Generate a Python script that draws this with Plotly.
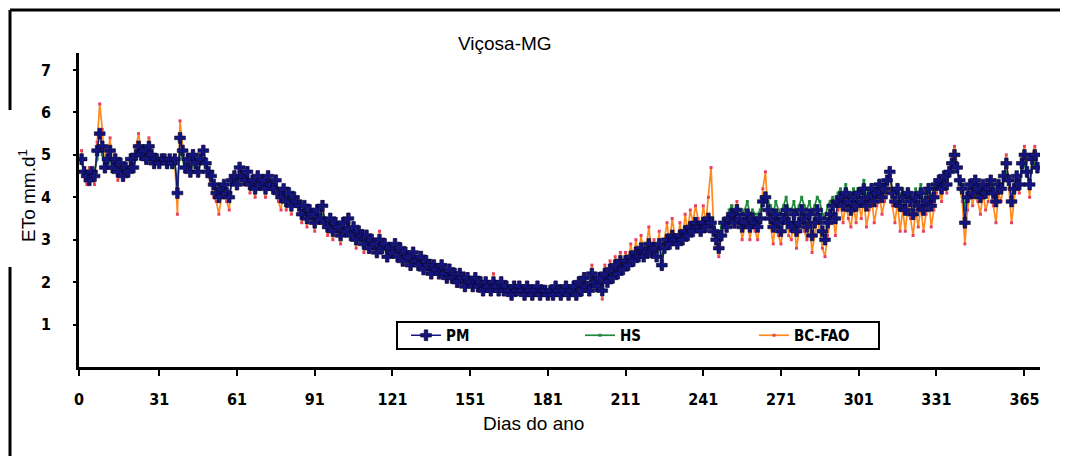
import plotly.graph_objects as go

# ---------------- data ----------------
days = list(range(1, 371))

pm = [
    4.9, 4.6, 4.5, 4.4, 4.6, 4.5, 5.1, 5.5, 5.2, 4.7,
    4.9, 5.1, 4.7, 4.9, 4.6, 4.8, 4.5, 4.7, 4.6, 4.9,
    4.7, 5.0, 5.2, 5.0, 5.1, 4.9, 5.2, 5.0, 4.8, 4.9,
    4.8, 4.9, 4.9, 4.8, 4.9, 4.8, 4.9, 4.1, 5.4, 5.1,
    4.7, 4.9, 4.6, 5.0, 4.8, 4.6, 4.9, 5.1, 4.8, 4.6,
    4.5, 4.3, 4.1, 4.0, 4.2, 4.3, 4.1, 4.0, 4.4, 4.5,
    4.3, 4.7, 4.5, 4.4, 4.6, 4.3, 4.4, 4.2, 4.5, 4.3,
    4.4, 4.2, 4.5, 4.3, 4.2, 4.4, 4.1, 4.0, 4.2, 3.9,
    4.1, 3.8, 4.0, 3.9, 3.8, 3.6, 3.8, 3.5, 3.7, 3.6,
    3.4, 3.7, 3.5, 3.8, 3.4, 3.3, 3.5, 3.2, 3.4, 3.3,
    3.1, 3.4, 3.2, 3.5, 3.1, 3.3, 3.0, 3.2, 3.1, 2.9,
    3.1, 2.8, 3.0, 2.9, 2.7, 3.0, 2.8, 2.9, 2.6, 2.8,
    2.7, 2.9, 2.6, 2.8, 2.5, 2.7, 2.6, 2.4, 2.7, 2.5,
    2.4, 2.6, 2.3, 2.5, 2.4, 2.2, 2.4, 2.3, 2.2, 2.4,
    2.2, 2.1, 2.3, 2.1, 2.2, 2.0, 2.2, 2.1, 1.9, 2.1,
    2.0, 1.9, 2.1, 1.9, 2.0, 1.8, 2.0, 1.9, 1.8, 2.0,
    1.9, 1.8, 2.0, 1.8, 1.9, 1.8, 1.7, 1.9, 1.8, 1.9,
    1.8, 1.7, 1.9, 1.8, 1.7, 1.8, 1.9, 1.7, 1.8, 1.8,
    1.7, 1.8, 1.7, 1.9, 1.8, 1.7, 1.8, 1.9, 1.7, 1.8,
    1.9, 1.7, 2.0, 1.8, 2.1, 1.9, 1.8, 2.2, 2.0, 1.9,
    2.1, 1.8, 2.2, 2.0, 2.3, 2.1, 2.4, 2.2, 2.5, 2.3,
    2.5, 2.4, 2.6, 2.5, 2.7, 2.6, 2.8, 2.6, 2.7, 2.9,
    2.7, 2.8, 2.6, 2.9, 2.4, 2.8, 3.0, 2.9, 3.1, 3.0,
    2.9, 3.1, 3.0, 3.2, 3.1, 3.3, 3.2, 3.4, 3.3, 3.2,
    3.4, 3.3, 3.5, 3.4, 3.2, 3.0, 2.8, 3.1, 3.4, 3.3,
    3.5, 3.6, 3.4, 3.7, 3.5, 3.3, 3.4, 3.6, 3.3, 3.5,
    3.4, 3.3, 3.5, 3.9, 4.0, 3.7, 3.5, 3.3, 3.6, 3.4,
    3.2, 3.5, 3.7, 3.4, 3.3, 3.6, 3.2, 3.4, 3.7, 3.5,
    3.3, 3.6, 3.1, 3.4, 3.7, 3.5, 3.2, 3.0, 3.4, 3.6,
    3.8, 3.5, 3.9, 4.0, 3.8, 4.1, 3.9, 3.7, 4.0, 3.8,
    4.1, 3.9, 4.2, 3.8, 4.0, 4.2, 3.9, 4.1, 4.3, 4.0,
    4.2, 4.4, 4.6, 4.1, 3.9, 4.2, 3.8, 4.0, 3.7, 4.1,
    3.9, 3.6, 4.0, 3.8, 4.1, 3.7, 3.9, 4.2, 3.8, 4.0,
    4.3, 4.4, 4.2, 4.5, 4.3, 4.6, 4.8, 5.0, 4.7, 4.4,
    4.2, 3.4, 4.0, 4.3, 4.1, 4.4, 4.2, 4.0, 4.3, 4.1,
    4.2, 4.4, 4.1, 3.9, 4.3, 4.2, 4.5, 4.8, 4.4, 3.9,
    4.2, 4.5, 4.3, 4.8, 5.0, 4.6, 4.3, 4.9, 5.0, 4.7,
]

hs = [
    4.8, 4.6, 4.5, 4.5, 4.6, 4.6, 4.9, 5.2, 5.0, 4.7,
    4.8, 4.9, 4.7, 4.8, 4.6, 4.7, 4.6, 4.7, 4.6, 4.8,
    4.7, 4.9, 5.0, 4.9, 4.9, 4.8, 5.0, 4.9, 4.8, 4.8,
    4.8, 4.8, 4.8, 4.7, 4.8, 4.7, 4.8, 4.3, 5.1, 4.9,
    4.6, 4.8, 4.6, 4.8, 4.7, 4.6, 4.8, 4.9, 4.7, 4.5,
    4.4, 4.3, 4.2, 4.1, 4.2, 4.3, 4.2, 4.1, 4.3, 4.4,
    4.3, 4.5, 4.4, 4.4, 4.5, 4.3, 4.4, 4.2, 4.4, 4.3,
    4.3, 4.2, 4.4, 4.2, 4.2, 4.3, 4.1, 4.0, 4.1, 3.9,
    4.0, 3.8, 3.9, 3.8, 3.8, 3.6, 3.7, 3.5, 3.6, 3.6,
    3.4, 3.6, 3.5, 3.6, 3.4, 3.3, 3.4, 3.2, 3.3, 3.3,
    3.1, 3.3, 3.2, 3.4, 3.1, 3.2, 3.0, 3.1, 3.0, 2.9,
    3.0, 2.8, 2.9, 2.9, 2.7, 2.9, 2.8, 2.8, 2.6, 2.7,
    2.7, 2.8, 2.6, 2.7, 2.5, 2.6, 2.6, 2.4, 2.6, 2.5,
    2.4, 2.5, 2.3, 2.4, 2.4, 2.2, 2.3, 2.3, 2.2, 2.3,
    2.2, 2.1, 2.2, 2.1, 2.1, 2.0, 2.1, 2.1, 1.9, 2.0,
    2.0, 1.9, 2.0, 1.9, 1.9, 1.8, 1.9, 1.9, 1.8, 1.9,
    1.9, 1.8, 1.9, 1.8, 1.8, 1.8, 1.7, 1.8, 1.8, 1.8,
    1.8, 1.7, 1.8, 1.8, 1.7, 1.8, 1.8, 1.7, 1.8, 1.8,
    1.7, 1.8, 1.7, 1.8, 1.8, 1.7, 1.8, 1.8, 1.7, 1.8,
    1.9, 1.8, 1.9, 1.8, 2.0, 1.9, 1.8, 2.1, 2.0, 1.9,
    2.1, 1.9, 2.1, 2.0, 2.2, 2.1, 2.3, 2.2, 2.4, 2.3,
    2.5, 2.4, 2.6, 2.5, 2.7, 2.6, 2.8, 2.7, 2.7, 2.9,
    2.8, 2.8, 2.7, 2.9, 2.6, 2.8, 3.0, 3.0, 3.1, 3.1,
    3.0, 3.2, 3.1, 3.3, 3.2, 3.4, 3.3, 3.5, 3.4, 3.3,
    3.5, 3.4, 3.6, 3.5, 3.4, 3.2, 3.1, 3.3, 3.5, 3.5,
    3.7, 3.8, 3.6, 3.8, 3.7, 3.6, 3.7, 3.9, 3.6, 3.7,
    3.6, 3.6, 3.7, 4.0, 4.1, 3.9, 3.8, 3.6, 3.9, 3.7,
    3.6, 3.8, 4.0, 3.7, 3.7, 3.9, 3.6, 3.8, 4.0, 3.8,
    3.7, 3.9, 3.6, 3.8, 4.0, 3.9, 3.6, 3.5, 3.8, 3.9,
    4.0, 3.8, 4.1, 4.2, 4.0, 4.3, 4.1, 4.0, 4.2, 4.1,
    4.2, 4.1, 4.4, 4.0, 4.2, 4.3, 4.1, 4.2, 4.4, 4.2,
    4.3, 4.4, 4.6, 4.2, 4.1, 4.3, 4.0, 4.2, 4.0, 4.2,
    4.1, 3.9, 4.2, 4.0, 4.3, 3.9, 4.1, 4.3, 4.0, 4.2,
    4.4, 4.4, 4.3, 4.5, 4.4, 4.6, 4.7, 4.9, 4.6, 4.4,
    4.3, 3.7, 4.1, 4.3, 4.2, 4.4, 4.3, 4.1, 4.3, 4.2,
    4.3, 4.4, 4.2, 4.0, 4.3, 4.2, 4.4, 4.6, 4.4, 4.0,
    4.2, 4.4, 4.3, 4.6, 4.8, 4.5, 4.3, 4.7, 4.8, 4.6,
]

bc_fao = [
    5.1, 4.5, 4.3, 4.7, 4.5, 4.3, 5.3, 6.2, 5.6, 4.6,
    5.0, 5.4, 4.6, 5.0, 4.4, 4.9, 4.4, 4.6, 4.5, 5.0,
    4.7, 5.2, 5.5, 5.1, 5.2, 4.9, 5.4, 5.1, 4.7, 4.9,
    4.8, 4.9, 4.9, 4.7, 4.9, 4.7, 4.8, 3.6, 5.8, 5.2,
    4.6, 5.0, 4.5, 5.1, 4.8, 4.5, 5.0, 5.2, 4.7, 4.5,
    4.3, 4.0, 3.9, 3.6, 4.0, 4.2, 3.9, 3.7, 4.5, 4.6,
    4.2, 4.8, 4.5, 4.3, 4.7, 4.1, 4.4, 4.0, 4.6, 4.2,
    4.4, 4.0, 4.6, 4.2, 4.1, 4.5, 3.9, 3.7, 4.2, 3.7,
    4.2, 3.6, 4.0, 3.8, 3.7, 3.4, 3.8, 3.3, 3.7, 3.5,
    3.2, 3.8, 3.4, 3.9, 3.3, 3.1, 3.5, 3.0, 3.4, 3.2,
    2.9, 3.5, 3.1, 3.6, 3.0, 3.3, 2.8, 3.2, 3.0, 2.7,
    3.2, 2.7, 3.1, 2.8, 2.6, 3.2, 2.7, 3.0, 2.5, 2.9,
    2.7, 3.0, 2.5, 2.9, 2.4, 2.8, 2.6, 2.3, 2.8, 2.5,
    2.4, 2.7, 2.2, 2.6, 2.4, 2.1, 2.5, 2.3, 2.1, 2.5,
    2.2, 2.0, 2.4, 2.0, 2.3, 1.9, 2.3, 2.1, 1.8, 2.2,
    2.0, 1.8, 2.2, 1.8, 2.1, 1.7, 2.1, 1.9, 1.7, 2.2,
    1.9, 1.7, 2.1, 1.7, 2.0, 1.8, 1.6, 2.0, 1.8, 2.0,
    1.8, 1.6, 2.0, 1.8, 1.6, 1.8, 2.0, 1.6, 1.8, 1.9,
    1.6, 1.8, 1.6, 2.0, 1.8, 1.6, 1.8, 2.0, 1.6, 1.8,
    2.0, 1.6, 2.1, 1.7, 2.2, 1.9, 1.7, 2.4, 2.0, 1.8,
    2.2, 1.6, 2.4, 2.0, 2.5, 2.1, 2.6, 2.2, 2.7, 2.3,
    2.7, 2.4, 2.9, 2.5, 3.0, 2.6, 3.1, 2.6, 2.8, 3.3,
    2.7, 3.0, 2.6, 3.2, 2.3, 3.0, 3.4, 2.9, 3.5, 3.1,
    2.9, 3.4, 3.0, 3.6, 3.2, 3.7, 3.4, 3.8, 3.5, 3.3,
    3.8, 3.4, 4.0, 4.7, 3.3, 2.9, 2.6, 3.1, 3.5, 3.2,
    3.6, 3.8, 3.3, 3.9, 3.4, 3.0, 3.3, 3.6, 3.0, 3.4,
    3.2, 3.0, 3.5, 4.2, 4.6, 3.6, 3.3, 2.9, 3.5, 3.1,
    2.9, 3.4, 3.6, 3.1, 3.0, 3.5, 2.8, 3.2, 3.6, 3.2,
    3.0, 3.5, 2.7, 3.1, 3.5, 3.2, 2.8, 2.6, 3.1, 3.4,
    3.6, 3.1, 3.7, 3.8, 3.4, 3.9, 3.5, 3.3, 3.8, 3.4,
    3.9, 3.5, 4.0, 3.3, 3.7, 4.0, 3.4, 3.8, 4.1, 3.6,
    3.9, 4.2, 4.7, 3.8, 3.4, 3.9, 3.2, 3.7, 3.2, 3.8,
    3.5, 3.1, 3.7, 3.3, 3.8, 3.2, 3.6, 4.0, 3.3, 3.7,
    4.1, 4.3, 3.9, 4.4, 4.1, 4.7, 5.0, 5.2, 4.8, 4.2,
    3.9, 2.9, 3.7, 4.1, 3.8, 4.2, 3.9, 3.6, 4.1, 3.7,
    3.9, 4.3, 3.8, 3.4, 4.1, 3.9, 4.4, 5.0, 4.2, 3.4,
    3.9, 4.4, 4.1, 4.9, 5.2, 4.6, 4.0, 5.0, 5.2, 4.7,
]

x_ticks = [0, 31, 61, 91, 121, 151, 181, 211, 241, 271, 301, 331, 365]
y_ticks = [1, 2, 3, 4, 5, 6, 7]

title_text = "Viçosa-MG"
x_title = "Dias do ano"
y_title = "ETo mm.d<sup>1</sup>"

# ---------------- figure ----------------
# The page body adds an 8 px offset; layout targets below are screen pixels.
OFF = 8
W, H = 1068, 456
L, T = 79 - OFF, 53 - OFF
pw, ph = 961, 314
R, B = W - L - pw, H - T - ph


def px(x):
    return (x - OFF - L) / pw


def py(y):
    return (T + ph - (y - OFF)) / ph


TICKFONT = dict(family="Liberation Sans Narrow, DejaVu Sans Condensed, Arial Narrow, sans-serif",
                size=16, color="black", weight="bold")

fig = go.Figure()

fig.add_trace(go.Scatter(
    x=days, y=bc_fao, name="BC-FAO", mode="lines+markers", legendrank=3,
    line=dict(color="#ff8a1e", width=1.7),
    marker=dict(symbol="square", size=3, color="#e8405e"),
))
fig.add_trace(go.Scatter(
    x=days, y=hs, name="HS", mode="lines+markers", legendrank=2,
    line=dict(color="#1f8a3c", width=1.7),
    marker=dict(symbol="square", size=3, color="#1f8a3c"),
))
fig.add_trace(go.Scatter(
    x=days, y=pm, name="PM", mode="lines+markers", legendrank=1,
    line=dict(color="#16167e", width=1.5),
    marker=dict(symbol="cross", size=9, color="#14147e",
                line=dict(color="#05052a", width=0.6)),
))

shapes = [
    # outer frame
    dict(type="line", xref="paper", yref="paper", x0=px(10), x1=px(1061), y0=py(10), y1=py(10),
         line=dict(color="black", width=3)),
    dict(type="line", xref="paper", yref="paper", x0=px(10), x1=px(10), y0=py(10), y1=py(110),
         line=dict(color="black", width=3)),
    dict(type="line", xref="paper", yref="paper", x0=px(10), x1=px(10), y0=py(267), y1=py(456),
         line=dict(color="black", width=3)),
    dict(type="line", xref="paper", yref="paper", x0=px(1061), x1=px(1061), y0=py(10), y1=py(456),
         line=dict(color="black", width=2)),
    # legend box
    dict(type="rect", xref="paper", yref="paper", x0=px(397), x1=px(879), y0=py(349), y1=py(322),
         line=dict(color="black", width=2), fillcolor="white", layer="below"),
]

fig.update_layout(
    width=W, height=H,
    margin=dict(l=L, r=R, t=T, b=B, pad=0),
    paper_bgcolor="white", plot_bgcolor="rgba(0,0,0,0)",
    showlegend=True,
    legend=dict(orientation="h", x=px(406), y=py(335.5), xanchor="left", yanchor="middle",
                bgcolor="rgba(0,0,0,0)", borderwidth=0, entrywidth=129, entrywidthmode="pixels",
                font=dict(family=TICKFONT["family"], size=15, color="black", weight="bold"),
                traceorder="normal"),
    shapes=shapes,
    annotations=[
        dict(text=title_text, xref="paper", yref="paper", x=px(505), y=py(43),
             showarrow=False, xanchor="center", yanchor="middle",
             font=dict(family="Liberation Sans, Arial, sans-serif", size=19, color="black")),
        dict(text=x_title, xref="paper", yref="paper", x=px(533), y=py(423),
             showarrow=False, xanchor="center", yanchor="middle",
             font=dict(family="Liberation Sans, Arial, sans-serif", size=19, color="black")),
        dict(text=y_title, xref="paper", yref="paper", x=px(27), y=py(196),
             showarrow=False, xanchor="center", yanchor="middle", textangle=-90,
             font=dict(family="Liberation Sans, Arial, sans-serif", size=19, color="black")),
    ],
)

fig.update_xaxes(
    range=[0, 371], tickmode="array", tickvals=x_ticks, ticktext=[str(v) for v in x_ticks],
    showline=True, linecolor="black", linewidth=2.5, ticks="outside", ticklen=6,
    tickwidth=2, tickcolor="black", showgrid=False, zeroline=False,
    tickfont=TICKFONT, ticklabelstandoff=10,
)
fig.update_yaxes(
    range=[0, 7.4], tickmode="array", tickvals=y_ticks, ticktext=[str(v) for v in y_ticks],
    showline=True, linecolor="black", linewidth=2.5, ticks="outside", ticklen=3,
    tickwidth=2, tickcolor="black", showgrid=False, zeroline=False,
    tickfont=TICKFONT, ticklabelstandoff=19,
)

fig.write_html("out.html")
